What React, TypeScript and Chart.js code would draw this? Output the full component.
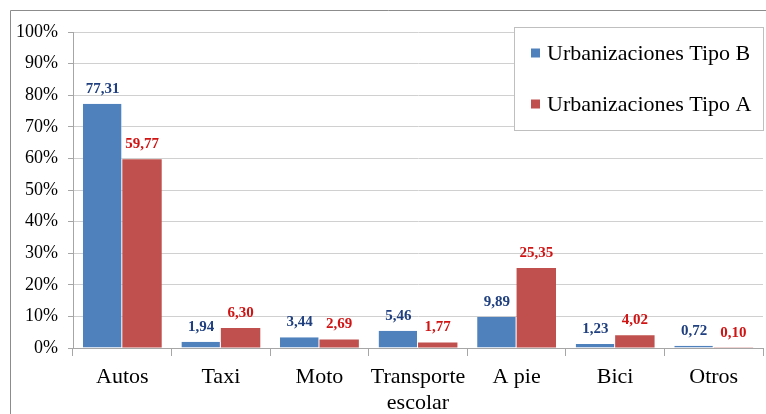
import React, { useEffect, useRef } from "react";
import { Chart, registerables } from "chart.js";

Chart.register(...registerables);

const categories: (string | string[])[] = ["Autos", "Taxi", "Moto", ["Transporte", "escolar"], "A pie", "Bici", "Otros"];
const seriesB = [77.31, 1.94, 3.44, 5.46, 9.89, 1.23, 0.72];
const seriesA = [59.77, 6.3, 2.69, 1.77, 25.35, 4.02, 0.1];
const seriesNames = ["Urbanizaciones Tipo B", "Urbanizaciones Tipo A"];
const barColors = ["#4F81BD", "#C0504D"];
const labelColors = ["#1F3F7F", "#D01414"];

const FONT = "'Liberation Serif', 'Times New Roman', serif";

export default function App() {
  const ref = useRef<HTMLCanvasElement | null>(null);
  useEffect(() => {
    if (!ref.current) return;
    const frame = {
      id: "frame",
      afterDraw(chart: any) {
        const ctx = chart.ctx;
        ctx.save();
        ctx.strokeStyle = "#8C8C8C";
        ctx.lineWidth = 1;
        ctx.beginPath();
        ctx.moveTo(10.5, 414);
        ctx.lineTo(10.5, 10.5);
        ctx.lineTo(766, 10.5);
        ctx.stroke();
        ctx.restore();
      },
    };
    const dataLabels = {
      id: "dataLabels",
      afterDatasetsDraw(chart: any) {
        const ctx = chart.ctx;
        ctx.save();
        ctx.font = `bold 15px ${FONT}`;
        ctx.textAlign = "center";
        ctx.textBaseline = "middle";
        chart.data.datasets.forEach((ds: any, i: number) => {
          const meta = chart.getDatasetMeta(i);
          ctx.fillStyle = labelColors[i];
          meta.data.forEach((bar: any, j: number) => {
            const v = ds.data[j] as number;
            ctx.fillText(v.toFixed(2).replace(".", ","), bar.x, bar.y - 15);
          });
        });
        ctx.restore();
      },
    };
    const legendBox = {
      id: "legendBox",
      afterDraw(chart: any) {
        const ctx = chart.ctx;
        ctx.save();
        ctx.fillStyle = "#FFFFFF";
        ctx.strokeStyle = "#BFBFBF";
        ctx.lineWidth = 1;
        ctx.fillRect(514.5, 27.5, 249, 103);
        ctx.strokeRect(514.5, 27.5, 249, 103);
        ctx.font = `22px ${FONT}`;
        ctx.textBaseline = "middle";
        ctx.textAlign = "left";
        const ys = [53, 104];
        chart.data.datasets.forEach((ds: any, i: number) => {
          ctx.fillStyle = barColors[i];
          ctx.fillRect(531, ys[i] - 4.5, 9, 9);
          ctx.fillStyle = "#000";
          ctx.fillText(ds.label, 547, ys[i] + 1);
        });
        ctx.restore();
      },
    };
    const chart = new Chart(ref.current, {
      type: "bar",
      data: {
        labels: categories,
        datasets: [
          { label: seriesNames[0], data: seriesB, backgroundColor: barColors[0], borderColor: "rgba(255,255,255,0.6)", borderWidth: { top: 0, left: 0, bottom: 0, right: 1 }, categoryPercentage: 0.8, barPercentage: 1.0 },
          { label: seriesNames[1], data: seriesA, backgroundColor: barColors[1], categoryPercentage: 0.8, barPercentage: 1.0 },
        ],
      },
      options: {
        responsive: false,
        animation: false,
        layout: { padding: { top: 32, right: 3, left: 0, bottom: 0 } },
        plugins: { legend: { display: false }, tooltip: { enabled: false } },
        scales: {
          y: {
            min: 0,
            max: 100,
            ticks: {
              stepSize: 10,
              callback: (v: any) => v + "%",
              font: { family: FONT, size: 18 },
              color: "#000",
              padding: 10,
            },
            grid: { color: "#D0D0D0", tickLength: 5, tickColor: "#A6A6A6" },
            border: { color: "#A6A6A6" },
            afterFit: (scale: any) => {
              scale.width = 73;
            },
          },
          x: {
            ticks: {
              font: { family: FONT, size: 22, lineHeight: 1.15 },
              color: "#000",
              padding: 9,
              maxRotation: 0,
              autoSkip: false,
            },
            grid: { offset: true, drawOnChartArea: false, tickLength: 8, color: "#A6A6A6" },
            border: { color: "#A6A6A6" },
            afterFit: (scale: any) => {
              scale.height = 66;
            },
          },
        },
      },
      plugins: [frame, dataLabels, legendBox],
    } as any);
    return () => chart.destroy();
  }, []);
  return (
    <div style={{ position: "fixed", left: 0, top: 0, width: 766, height: 414, background: "#fff" }}>
      <canvas ref={ref} width={766} height={414} style={{ display: "block" }} />
    </div>
  );
}
